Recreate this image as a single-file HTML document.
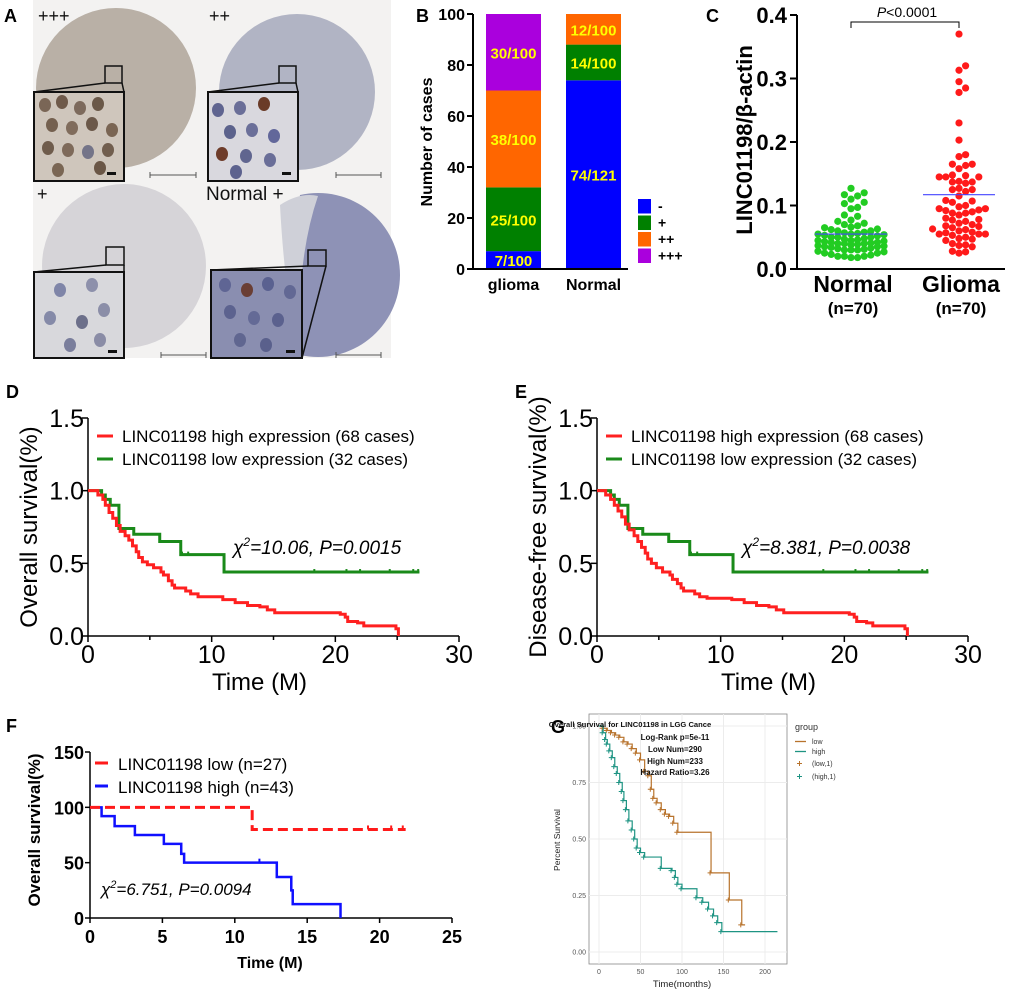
<!DOCTYPE html>
<html><head><meta charset="utf-8"><style>
body{margin:0;background:#fff}
svg{display:block;font-family:"Liberation Sans",Arial,sans-serif}
</style></head><body>
<svg id="fig" width="1020" height="996" viewBox="0 0 1020 996" xmlns="http://www.w3.org/2000/svg">
<g>
  <rect x="33" y="0" width="358" height="358" fill="#f3f2f1"/>
  <circle cx="116" cy="88" r="80" fill="#b9b0a6"/>
  <circle cx="297" cy="92" r="78" fill="#b1b4c4"/>
  <circle cx="124" cy="266" r="82" fill="#d6d4d8"/>
  <path d="M300,195 A82,82 0 1,1 300,355 Q285,280 300,195Z" fill="#8e92b6"/>
  <path d="M280,205 Q300,192 318,196 Q296,260 300,355 Q285,300 280,205Z" fill="#cfd0d8"/>
  <g stroke="#111" stroke-width="1.5" fill="none">
    <rect x="105" y="66" width="17" height="17"/>
    <rect x="279" y="66" width="17" height="17"/>
    <rect x="106" y="247" width="18" height="18"/>
    <rect x="308" y="250" width="18" height="16"/>
    <path d="M34,92 L105,83 M124,92 L122,83 M208,92 L279,83 M298,92 L296,83 M34,272 L106,265 M124,272 L124,265 M211,270 L308,266 M302,358 L326,266"/>
  </g>
  <rect x="34" y="92" width="90" height="89" fill="#cfc6bc" stroke="#111" stroke-width="2"/>
  <rect x="208" y="92" width="90" height="89" fill="#d9d8de" stroke="#111" stroke-width="2"/>
  <rect x="34" y="272" width="90" height="86" fill="#d8d8dc" stroke="#111" stroke-width="2"/>
  <rect x="211" y="270" width="91" height="88" fill="#8a8eb0" stroke="#111" stroke-width="2"/>
  <g id="nuclei"></g>
  <g stroke="#555" stroke-width="1">
    <path d="M150,175 H196 M150,172 V178 M196,172 V178 M336,175 H381 M336,172 V178 M381,172 V178 M161,355 H206 M161,352 V358 M206,352 V358 M336,355 H381 M336,352 V358 M381,352 V358"/>
  </g>
  <g fill="#111">
    <rect x="107" y="172" width="9" height="3"/><rect x="282" y="172" width="9" height="3"/><rect x="108" y="350" width="9" height="3"/><rect x="286" y="350" width="9" height="3"/>
  </g>
  <g font-size="18" fill="#111">
    <text x="38" y="22">+++</text>
    <text x="209" y="22">++</text>
    <text x="37" y="200">+</text>
    <text x="206" y="200" font-size="19">Normal +</text>
  </g>
  <text x="4" y="22" font-size="18" font-weight="bold">A</text>
</g>

<g id="panelB">
  <text x="416" y="22" font-size="18" font-weight="bold">B</text>
</g>
<g id="panelC">
  <text x="706" y="22" font-size="18" font-weight="bold">C</text>
</g>
<g id="panelD"></g>
<g id="panelE"></g>
<g id="panelF"></g>
<g id="panelG"></g>
</svg>
<script>
const bCategories = ["glioma", "Normal"];
const bLevels = ["-", "+", "++", "+++"];
const bGlioma = [7, 25, 38, 30];
const bNormal = [74, 14, 12, 0];
const bGliomaLabels = ["7/100", "25/100", "38/100", "30/100"];
const bNormalLabels = ["74/121", "14/100", "12/100", ""];
const bTicks = [0, 20, 40, 60, 80, 100];

const cNormal = [0.127,0.12,0.117,0.115,0.11,0.105,0.103,0.097,0.095,0.085,0.083,0.077,0.075,0.072,0.07,0.068,0.066,0.065,0.063,0.062,0.06,0.06,0.058,0.057,0.056,0.055,0.055,0.054,0.053,0.052,0.05,0.05,0.05,0.048,0.047,0.046,0.045,0.045,0.044,0.043,0.042,0.042,0.041,0.04,0.04,0.04,0.039,0.038,0.037,0.036,0.035,0.035,0.034,0.033,0.032,0.031,0.03,0.03,0.028,0.027,0.025,0.025,0.023,0.022,0.02,0.02,0.018,0.018,0.02,0.03];
const cGlioma = [0.37,0.32,0.313,0.295,0.285,0.278,0.23,0.203,0.18,0.177,0.165,0.165,0.163,0.158,0.148,0.147,0.145,0.145,0.145,0.138,0.137,0.137,0.135,0.127,0.125,0.125,0.122,0.115,0.108,0.107,0.105,0.1,0.098,0.095,0.095,0.093,0.092,0.09,0.088,0.088,0.085,0.08,0.078,0.077,0.075,0.072,0.07,0.068,0.067,0.065,0.063,0.062,0.06,0.058,0.057,0.055,0.055,0.055,0.053,0.05,0.048,0.047,0.045,0.04,0.038,0.037,0.035,0.028,0.027,0.025];
const cMedians = [0.055, 0.117];
const cTicks = [0.0, 0.1, 0.2, 0.3, 0.4];

const dHighT = [0.8,1.2,1.4,1.7,2.0,2.3,2.6,3.0,3.3,3.6,3.9,4.1,4.4,4.8,5.3,5.9,6.1,6.5,6.8,7.0,7.9,8.3,8.9,10.9,11.9,12.9,13.9,14.5,15.1,20.4,20.8,21.0,21.8,22.3,24.9,25.1];
const dHighS = [0.97,0.94,0.9,0.85,0.81,0.76,0.72,0.69,0.66,0.62,0.58,0.54,0.51,0.49,0.47,0.44,0.42,0.38,0.35,0.33,0.31,0.29,0.27,0.25,0.23,0.21,0.2,0.18,0.16,0.15,0.13,0.1,0.09,0.07,0.05,0.0];
const dLowT = [1.1,1.4,1.8,2.5,3.7,5.8,7.5,11.0];
const dLowS = [0.97,0.94,0.9,0.74,0.7,0.65,0.56,0.44];
const dLowCens = [7.6,8.1,18.3,20.9,22.0,24.4,26.3,26.7];
const eHighT = [0.7,1.1,1.4,1.7,2.0,2.3,2.6,3.0,3.3,3.6,3.9,4.1,4.4,4.8,5.3,5.9,6.1,6.5,6.8,7.0,7.9,8.3,8.9,10.9,11.9,12.9,13.9,14.5,15.1,20.4,20.8,21.0,21.8,22.3,24.9,25.1];
const eHighS = [0.97,0.94,0.9,0.86,0.82,0.77,0.73,0.69,0.65,0.61,0.57,0.53,0.5,0.47,0.44,0.42,0.39,0.36,0.33,0.31,0.29,0.27,0.26,0.25,0.23,0.21,0.2,0.18,0.16,0.15,0.13,0.1,0.09,0.07,0.05,0.0];
const eLowT = [1.1,1.4,1.8,2.5,3.7,5.8,7.5,11.0];
const eLowS = [0.97,0.94,0.9,0.74,0.7,0.65,0.56,0.44];
const eLowCens = [7.6,8.1,18.3,20.9,22.0,24.4,26.3,26.7];
const kmTicksX = [0, 10, 20, 30];
const kmTicksY = [0.0, 0.5, 1.0, 1.5];

const fLowT = [11.2];
const fLowS = [80];
const fLowEnd = 21.8;
const fLowCens = [19.2, 20.8, 21.6];
const fHighT = [0.8,1.7,3.1,5.1,6.3,6.5,12.9,13.9,14.0,17.3];
const fHighS = [92,83,75,67,58,50,37,25,12.5,0];
const fHighCens = [11.7];
const fTicksX = [0,5,10,15,20,25];
const fTicksY = [0,50,100,150];

const gLowT = [5,10,15,20,25,30,35,40,45,50,55,60,63,66,70,75,80,85,90,95,135,157,172];
const gLowS = [0.99,0.98,0.97,0.96,0.95,0.93,0.92,0.9,0.88,0.85,0.8,0.78,0.72,0.68,0.66,0.63,0.61,0.6,0.57,0.53,0.35,0.23,0.12];
const gLowEnd = 176;
const gHighT = [5,8,10,13,16,19,22,25,28,30,33,36,40,43,46,50,55,75,88,92,95,100,118,125,132,138,143,148];
const gHighS = [0.97,0.94,0.92,0.89,0.86,0.82,0.79,0.75,0.71,0.67,0.63,0.58,0.54,0.5,0.46,0.44,0.42,0.37,0.36,0.33,0.3,0.28,0.24,0.22,0.19,0.16,0.13,0.09];
const gHighEnd = 215;
const gTicksX = [0,50,100,150,200];
const gTicksY = [0,0.25,0.5,0.75,1.0];

const NS = "http://www.w3.org/2000/svg";
function el(tag, parent, attrs, text){
  const e = document.createElementNS(NS, tag);
  for (const k in attrs) e.setAttribute(k, attrs[k]);
  if (text !== undefined) e.textContent = text;
  parent.appendChild(e);
  return e;
}
function lin(d0,d1,r0,r1){return v => r0 + (v-d0)/(d1-d0)*(r1-r0);}
function stepPath(x,y,times,survs,start,end){
  let d = "M"+x(0)+","+y(start);
  for (let i=0;i<times.length;i++){ d += " H"+x(times[i])+" V"+y(survs[i]); }
  if (end !== undefined) d += " H"+x(end);
  return d;
}
function survAt(times,survs,start,t){let s=start;for(let i=0;i<times.length;i++){if(times[i]<=t)s=survs[i];}return s;}

(function(){
  const g = document.getElementById("nuclei");
  const spots = [[45,105,"#7a6656"],[62,102,"#6f5a4a"],[80,108,"#7d6a5c"],[98,104,"#6a5848"],[52,125,"#74604f"],[72,128,"#806c5c"],[92,124,"#6b5849"],[112,130,"#7a6553"],[48,148,"#6f5c4c"],[68,150,"#7e6a5a"],[88,152,"#747488"],[108,150,"#715e4e"],[58,170,"#7a6654"],[100,168,"#6a5646"],
    [218,110,"#5f6490"],[240,108,"#6a6e98"],[264,104,"#6a3b28"],[230,132,"#5c628c"],[252,130,"#6b6f99"],[274,136,"#62679a"],[222,154,"#6e3c2a"],[246,156,"#60658f"],[270,160,"#6a6e98"],[236,172,"#5d628e"],
    [60,290,"#7f85a8"],[92,285,"#8d90ab"],[50,318,"#858aa8"],[82,322,"#6c6f8a"],[104,310,"#8b8ea8"],[70,345,"#7a7e9c"],[100,340,"#8a8ca6"],
    [225,285,"#5f6594"],[247,290,"#6a3e34"],[268,284,"#5a6190"],[290,292,"#626894"],[230,312,"#5c628f"],[254,318,"#646a96"],[278,320,"#5b618e"],[240,340,"#606690"],[266,345,"#5a608c"]];
  for (const s of spots){
    const c = el("ellipse", g, {cx:s[0], cy:s[1], rx:6, ry:7, fill:s[2]});
    
    
  }
})();

(function(){
  const g = document.getElementById("panelB");
  const y = lin(0,100,269,14);
  const colors = ["#0000ff","#008000","#ff6600","#aa00dd"];
  const barX = [486, 566], barW = [55, 55];
  const series = [bGlioma, bNormal], labels=[bGliomaLabels,bNormalLabels];
  for (let b=0;b<2;b++){
    let acc=0;
    for (let k=0;k<4;k++){
      const v = series[b][k]; if (!v) continue;
      const r = el("rect", g, {x:barX[b], y:y(acc+v), width:barW[b], height:y(acc)-y(acc+v), fill:colors[k]});
      
      
      const t = el("text", g, {x:barX[b]+barW[b]/2, y:(y(acc)+y(acc+v))/2+6, "text-anchor":"middle", "font-size":15, "font-weight":"bold", fill:"#ffff00"}, labels[b][k]);
      
      
      acc+=v;
    }
    const cl = el("text", g, {x:barX[b]+barW[b]/2, y:290, "text-anchor":"middle", "font-size":16, "font-weight":"bold"}, bCategories[b]);
    
    
  }
  const ax = el("path", g, {d:"M473,14 V269 H628", stroke:"#000", "stroke-width":2, fill:"none"});
  
  
  for (const t of bTicks){
    el("line", g, {x1:467,x2:473,y1:y(t),y2:y(t),stroke:"#000","stroke-width":2});
    const tl = el("text", g, {x:465, y:y(t)+6, "text-anchor":"end", "font-size":16, "font-weight":"bold"}, t);
    
    
  }
  const yt = el("text", g, {x:0,y:0,transform:"translate(432,142) rotate(-90)","text-anchor":"middle","font-size":16,"font-weight":"bold"}, "Number of cases");
  
  
  for (let k=0;k<4;k++){
    const r = el("rect", g, {x:638, y:199+k*16.5, width:13, height:14.5, fill:colors[k]});
    
    
    const t = el("text", g, {x:658, y:211+k*16.5, "font-size":14, "font-weight":"bold"}, bLevels[k]);
    
    
  }
})();

(function(){
  const g = document.getElementById("panelC");
  const y = lin(0,0.4,269,15);
  const ax = el("path", g, {d:"M797,15 V269 H1005", stroke:"#000","stroke-width":2,fill:"none"});
  
  
  for (const t of cTicks){
    el("line", g, {x1:790,x2:797,y1:y(t),y2:y(t),stroke:"#000","stroke-width":2});
    const tl = el("text", g, {x:787,y:y(t)+8,"text-anchor":"end","font-size":22,"font-weight":"bold"}, t.toFixed(1));
    
    
  }
  const yt = el("text", g, {transform:"translate(752,140) rotate(-90)","text-anchor":"middle","font-size":22,"font-weight":"bold"}, "LINC01198/β-actin");
  
  
  const centers=[851,959], cols=["#22cc22","#ff1a1a"], groups=[cNormal,cGlioma], names=["Normal","Glioma"];
  for (let gi=0;gi<2;gi++){
    const vals = groups[gi].slice().sort((a,b)=>a-b);
    const placed=[]; const r=3.6, step=6.6, thr=6.4;
    for (const v of vals){
      const py=y(v); let off=0, best=null, bestD=-1;
      for (let k=0;k<11;k++){
        const cand = k===0?0:(k%2? Math.ceil(k/2)*step : -Math.ceil(k/2)*step);
        let md=1e9;
        for (const p of placed){ md=Math.min(md, Math.hypot(p[0]-cand,p[1]-py)); }
        if (md>=thr){best=cand;break;}
        if (md>bestD){bestD=md;off=cand;}
      }
      if (best!==null) off=best;
      placed.push([off,py]);
      const c = el("circle", g, {cx:centers[gi]+off, cy:py, r:r, fill:cols[gi]});
      
      
    }
    const m = el("line", g, {x1:centers[gi]-36,x2:centers[gi]+36,y1:y(cMedians[gi]),y2:y(cMedians[gi]),stroke:"#4444ff","stroke-width":1.2});
    
    
    const l1 = el("text", g, {x:centers[gi]+2,y:292,"text-anchor":"middle","font-size":23,"font-weight":"bold"}, names[gi]);
    
    
    const l2 = el("text", g, {x:centers[gi]+2,y:314,"text-anchor":"middle","font-size":17,"font-weight":"bold"}, "(n=70)");
    
    
  }
  el("path", g, {d:"M851,28 V22 H959 V28",stroke:"#000","stroke-width":1,fill:"none"});
  const p = el("text", g, {x:907,y:17,"text-anchor":"middle","font-size":14}, "");
  
  
  el("tspan", p, {"font-style":"italic"}, "P");
  el("tspan", p, {}, "<0.0001");
})();

function kmPanel(gid, ox, label, ytitle, highT, highS, lowT, lowS, lowCens, chi, pval){
  const g = document.getElementById(gid);
  const x = lin(0,30,ox,ox+371), y = lin(0,1.5,636,418);
  const pl = el("text", g, {x:ox-82,y:398,"font-size":18,"font-weight":"bold"}, label);
  
  
  const ax = el("path", g, {d:`M${ox},${y(1.5)} V636 H${x(30)}`, stroke:"#000","stroke-width":1.5, fill:"none"});
  
  
  for (const t of kmTicksY){
    el("line", g, {x1:ox-6,x2:ox,y1:y(t),y2:y(t),stroke:"#000","stroke-width":1.5});
    const tl = el("text", g, {x:ox-4,y:y(t)+9,"text-anchor":"end","font-size":25}, t.toFixed(1));
    
    
  }
  for (let t=0;t<=30;t+=5){
    el("line", g, {x1:x(t),x2:x(t),y1:636,y2:t%10?640:642,stroke:"#000","stroke-width":1.5});
  }
  for (const t of kmTicksX){
    const tl = el("text", g, {x:x(t),y:663,"text-anchor":"middle","font-size":25}, t);
    
    
  }
  const xt = el("text", g, {x:x(15)-14,y:690,"text-anchor":"middle","font-size":24}, "Time (M)");
  
  
  const yt = el("text", g, {transform:`translate(${ox-51},527) rotate(-90)`,"text-anchor":"middle","font-size":24}, ytitle);
  
  
  const lowEnd = 26.8;
  const gl = el("path", g, {d:stepPath(x,y,lowT,lowS,1,lowEnd), stroke:"#1a8a1a","stroke-width":3, fill:"none"});
  
  
  for (const c of lowCens){
    const s = survAt(lowT,lowS,1,c);
    el("line", g, {x1:x(c),x2:x(c),y1:y(s)-3,y2:y(s)+1,stroke:"#1a8a1a","stroke-width":2});
  }
  const rl = el("path", g, {d:stepPath(x,y,highT,highS,1), stroke:"#ff2020","stroke-width":3, fill:"none"});
  
  
  const lg = [["#ff2020","LINC01198 high expression (68 cases)",436],["#1a8a1a","LINC01198 low expression (32 cases)",459]];
  for (const e of lg){
    el("line", g, {x1:ox+9,x2:ox+25,y1:e[2],y2:e[2],stroke:e[0],"stroke-width":3});
    const t = el("text", g, {x:ox+34,y:e[2]+6,"font-size":17}, e[1]);
    
    
  }
  const ct = el("text", g, {x:ox+145,y:554,"font-size":19,"font-style":"italic"}, "");
  
  
  el("tspan", ct, {}, "χ");
  el("tspan", ct, {"font-size":12, dy:-8}, "2");
  el("tspan", ct, {dy:8}, "="+chi+", P="+pval);
}
kmPanel("panelD", 88, "D", "Overall survival(%)", dHighT, dHighS, dLowT, dLowS, dLowCens, "10.06", "0.0015");
kmPanel("panelE", 597, "E", "Disease-free survival(%)", eHighT, eHighS, eLowT, eLowS, eLowCens, "8.381", "0.0038");

(function(){
  const g = document.getElementById("panelF");
  const x = lin(0,25,90,452), y = lin(0,150,918,752);
  const pl = el("text", g, {x:6,y:732,"font-size":18,"font-weight":"bold"}, "F");
  
  
  const ax = el("path", g, {d:"M90,752 V918 H452", stroke:"#000","stroke-width":1.5, fill:"none"});
  
  
  for (const t of fTicksY){
    el("line", g, {x1:85,x2:90,y1:y(t),y2:y(t),stroke:"#000","stroke-width":1.5});
    const tl = el("text", g, {x:84,y:y(t)+7,"text-anchor":"end","font-size":18,"font-weight":"bold"}, t);
    
    
  }
  for (const t of fTicksX){
    el("line", g, {x1:x(t),x2:x(t),y1:918,y2:923,stroke:"#000","stroke-width":1.5});
    const tl = el("text", g, {x:x(t),y:943,"text-anchor":"middle","font-size":18,"font-weight":"bold"}, t);
    
    
  }
  const xt = el("text", g, {x:270,y:968,"text-anchor":"middle","font-size":16,"font-weight":"bold"}, "Time (M)");
  
  
  const yt = el("text", g, {transform:"translate(40,830) rotate(-90)","text-anchor":"middle","font-size":17,"font-weight":"bold"}, "Overall survival(%)");
  
  
  const hl = el("path", g, {d:stepPath(x,y,fHighT,fHighS,100), stroke:"#1010ff","stroke-width":2.5, fill:"none"});
  
  
  for (const c of fHighCens){ const s=survAt(fHighT,fHighS,100,c); el("line", g, {x1:x(c),x2:x(c),y1:y(s)-4,y2:y(s),stroke:"#1010ff","stroke-width":2}); }
  const ll = el("path", g, {d:stepPath(x,y,fLowT,fLowS,100,fLowEnd), stroke:"#ff1a1a","stroke-width":3, fill:"none","stroke-dasharray":"10,5"});
  
  
  for (const c of fLowCens){ const s=survAt(fLowT,fLowS,100,c); el("line", g, {x1:x(c),x2:x(c),y1:y(s)-4,y2:y(s),stroke:"#ff1a1a","stroke-width":2}); }
  const lg=[["#ff1a1a","LINC01198 low  (n=27)",763],["#1010ff","LINC01198 high (n=43)",786]];
  for (const e of lg){
    el("line", g, {x1:95,x2:108,y1:e[2],y2:e[2],stroke:e[0],"stroke-width":3});
    const t = el("text", g, {x:118,y:e[2]+7,"font-size":17}, e[1]);
    
    
  }
  const ct = el("text", g, {x:101,y:895,"font-size":17,"font-style":"italic"}, "");
  
  
  el("tspan", ct, {}, "χ");
  el("tspan", ct, {"font-size":11, dy:-7}, "2");
  el("tspan", ct, {dy:7}, "=6.751, P=0.0094");
})();

(function(){
  const g = document.getElementById("panelG");
  const x = lin(0,200,599,765), y = lin(0,1,952,726);
  const pl = el("text", g, {x:551,y:733,"font-size":18,"font-weight":"bold"}, "G");
  
  
  el("rect", g, {x:589,y:714,width:198,height:250,fill:"#fff",stroke:"#888","stroke-width":0.8});
  for (const t of gTicksY){ el("line", g, {x1:589,x2:787,y1:y(t),y2:y(t),stroke:"#ececec","stroke-width":1});
    const tl = el("text", g, {x:586,y:y(t)+2.5,"text-anchor":"end","font-size":7,fill:"#555"}, t.toFixed(2));
    
     }
  for (const t of gTicksX){ el("line", g, {x1:x(t),x2:x(t),y1:714,y2:964,stroke:"#ececec","stroke-width":1});
    const tl = el("text", g, {x:x(t),y:974,"text-anchor":"middle","font-size":7,fill:"#555"}, t);
    
     }
  const xt = el("text", g, {x:682,y:987,"text-anchor":"middle","font-size":9.5,fill:"#222"}, "Time(months)");
  
  
  const yt = el("text", g, {transform:"translate(560,840) rotate(-90)","text-anchor":"middle","font-size":8.5,fill:"#222"}, "Percent Survival");
  
  
  const series=[[gLowT,gLowS,gLowEnd,"#b8732c","low"],[gHighT,gHighS,gHighEnd,"#1e9483","high"]];
  for (const s of series){
    const p = el("path", g, {d:stepPath(x,y,s[0],s[1],1,s[2]), stroke:s[3],"stroke-width":1.2, fill:"none"});
    
    
    for (let i=0;i<s[0].length;i++){
      const cx=x(s[0][i])-1, cy=y(s[1][i]);
      const m = el("path", g, {d:`M${cx-2.5},${cy} h5 M${cx},${cy-2.5} v5`, stroke:s[3],"stroke-width":1});
      
      
    }
  }
  const info = [["Overall Survival for LINC01198 in LGG Cance",630,727,7.6],["Log-Rank p=5e-11",675,740,8],["Low Num=290",675,752,8],["High Num=233",675,764,8],["Hazard Ratio=3.26",675,775,8]];
  for (const t of info){
    const tt = el("text", g, {x:t[1],y:t[2],"text-anchor":"middle","font-size":t[3],"font-weight":"bold",fill:"#111"}, t[0]);
    
    
  }
  const lt = el("text", g, {x:795,y:730,"font-size":9,fill:"#333"}, "group");
  
  
  const le=[["low",744,"#b8732c",0],["high",754,"#1e9483",0],["(low,1)",766,"#b8732c",1],["(high,1)",779,"#1e9483",1]];
  for (const e of le){
    if (e[3]) el("path", g, {d:`M${797},${e[1]-2.5} h5 M${799.5},${e[1]-5} v5`, stroke:e[2],"stroke-width":1});
    else el("line", g, {x1:795,x2:806,y1:e[1]-2.5,y2:e[1]-2.5,stroke:e[2],"stroke-width":1.3});
    const t = el("text", g, {x:812,y:e[1],"font-size":7,fill:"#333"}, e[0]);
    
    
  }
})();
</script>
</body></html>
